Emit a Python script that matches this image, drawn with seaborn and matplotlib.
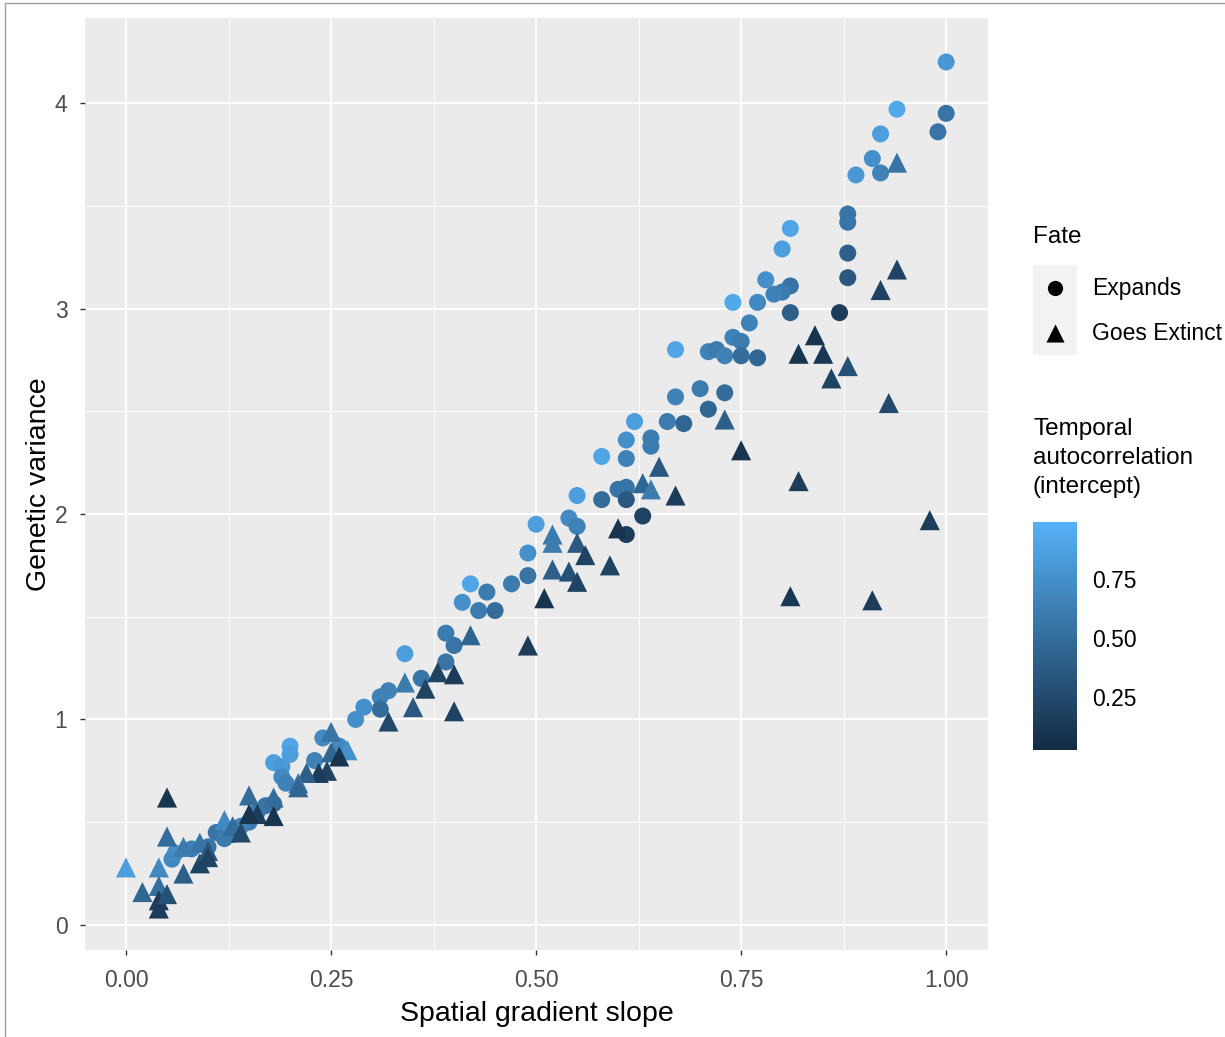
import numpy as np
import pandas as pd
import seaborn as sns
import matplotlib
matplotlib.use("Agg")
import matplotlib.pyplot as plt
from matplotlib.colors import LinearSegmentedColormap, Normalize
from matplotlib.lines import Line2D
import matplotlib.colorbar as mcolorbar

# ---------------- data ----------------
expands_slope = [1.00, 1.00, 0.99, 0.94, 0.92, 0.91, 0.92, 0.89, 0.88, 0.88,
                 0.88, 0.88, 0.87, 0.81, 0.80, 0.78, 0.81, 0.80, 0.79, 0.81,
                 0.74, 0.77, 0.76, 0.74, 0.75, 0.71, 0.72, 0.73, 0.75, 0.77,
                 0.67, 0.70, 0.73, 0.71, 0.67, 0.62, 0.66, 0.68, 0.61, 0.64,
                 0.64, 0.58, 0.61, 0.55, 0.58, 0.60, 0.61, 0.61, 0.63, 0.61,
                 0.54, 0.55, 0.50, 0.49, 0.49, 0.47, 0.42, 0.41, 0.44, 0.43,
                 0.45, 0.39, 0.40, 0.34, 0.39, 0.36, 0.32, 0.31, 0.31, 0.29,
                 0.28, 0.24, 0.23, 0.20, 0.18, 0.19, 0.19, 0.195, 0.18, 0.06,
                 0.056, 0.11, 0.10, 0.13, 0.15, 0.20, 0.26, 0.08, 0.12, 0.14,
                 0.16, 0.17]
expands_var = [4.20, 3.95, 3.86, 3.97, 3.85, 3.73, 3.66, 3.65, 3.46, 3.42,
               3.27, 3.15, 2.98, 3.39, 3.29, 3.14, 3.11, 3.08, 3.07, 2.98,
               3.03, 3.03, 2.93, 2.86, 2.84, 2.79, 2.80, 2.77, 2.77, 2.76,
               2.80, 2.61, 2.59, 2.51, 2.57, 2.45, 2.45, 2.44, 2.36, 2.37,
               2.33, 2.28, 2.27, 2.09, 2.07, 2.12, 2.13, 2.07, 1.99, 1.90,
               1.98, 1.94, 1.95, 1.81, 1.70, 1.66, 1.66, 1.57, 1.62, 1.53,
               1.53, 1.42, 1.36, 1.32, 1.28, 1.20, 1.14, 1.11, 1.05, 1.06,
               1.00, 0.91, 0.80, 0.87, 0.79, 0.77, 0.72, 0.69, 0.59, 0.35,
               0.32, 0.45, 0.38, 0.44, 0.50, 0.83, 0.87, 0.37, 0.42, 0.48,
               0.55, 0.58]
expands_ac = [0.80, 0.55, 0.55, 0.92, 0.85, 0.75, 0.65, 0.80, 0.55, 0.55,
              0.40, 0.35, 0.15, 0.90, 0.85, 0.75, 0.55, 0.60, 0.65, 0.40,
              0.92, 0.70, 0.65, 0.65, 0.60, 0.65, 0.60, 0.65, 0.50, 0.45,
              0.90, 0.60, 0.50, 0.45, 0.65, 0.85, 0.60, 0.45, 0.75, 0.60,
              0.60, 0.90, 0.65, 0.85, 0.50, 0.55, 0.55, 0.35, 0.20, 0.15,
              0.70, 0.65, 0.85, 0.75, 0.55, 0.60, 0.90, 0.75, 0.60, 0.60,
              0.50, 0.60, 0.55, 0.85, 0.55, 0.55, 0.65, 0.65, 0.50, 0.75,
              0.75, 0.70, 0.65, 0.90, 0.85, 0.80, 0.70, 0.65, 0.45, 0.75,
              0.70, 0.55, 0.55, 0.55, 0.60, 0.85, 0.70, 0.65, 0.60, 0.65,
              0.60, 0.55]

extinct_slope = [0.94, 0.94, 0.92, 0.84, 0.82, 0.85, 0.88, 0.86, 0.93, 0.73,
                 0.75, 0.82, 0.98, 0.81, 0.91, 0.65, 0.63, 0.64, 0.67, 0.60,
                 0.55, 0.52, 0.52, 0.56, 0.59, 0.52, 0.54, 0.55, 0.51, 0.49,
                 0.42, 0.38, 0.40, 0.34, 0.365, 0.35, 0.40, 0.32, 0.25, 0.27,
                 0.25, 0.26, 0.245, 0.235, 0.22, 0.21, 0.18, 0.21, 0.05, 0.15,
                 0.00, 0.05, 0.04, 0.02, 0.04, 0.04, 0.04, 0.07, 0.07, 0.09,
                 0.09, 0.10, 0.12, 0.13, 0.14, 0.16, 0.15, 0.18, 0.10, 0.05]
extinct_var = [3.71, 3.19, 3.09, 2.87, 2.78, 2.78, 2.72, 2.66, 2.54, 2.46,
               2.31, 2.16, 1.97, 1.60, 1.58, 2.23, 2.15, 2.12, 2.09, 1.93,
               1.86, 1.90, 1.86, 1.80, 1.75, 1.73, 1.72, 1.67, 1.59, 1.36,
               1.41, 1.23, 1.22, 1.18, 1.15, 1.06, 1.04, 0.99, 0.94, 0.85,
               0.84, 0.82, 0.75, 0.74, 0.74, 0.69, 0.62, 0.67, 0.62, 0.63,
               0.28, 0.43, 0.28, 0.16, 0.19, 0.12, 0.08, 0.25, 0.38, 0.40,
               0.30, 0.36, 0.51, 0.48, 0.45, 0.54, 0.54, 0.53, 0.33, 0.15]
extinct_ac = [0.55, 0.20, 0.20, 0.10, 0.10, 0.12, 0.30, 0.20, 0.25, 0.40,
              0.10, 0.15, 0.15, 0.12, 0.15, 0.35, 0.45, 0.60, 0.15, 0.10,
              0.35, 0.60, 0.60, 0.20, 0.20, 0.40, 0.30, 0.20, 0.10, 0.15,
              0.45, 0.20, 0.15, 0.60, 0.20, 0.35, 0.20, 0.25, 0.55, 0.75,
              0.45, 0.10, 0.20, 0.15, 0.40, 0.55, 0.50, 0.45, 0.10, 0.50,
              0.85, 0.50, 0.70, 0.45, 0.50, 0.15, 0.15, 0.40, 0.60, 0.55,
              0.20, 0.35, 0.70, 0.50, 0.25, 0.15, 0.10, 0.10, 0.20, 0.30]

fate_levels = ["Expands", "Goes Extinct"]
x_ticks = [0.00, 0.25, 0.50, 0.75, 1.00]
x_ticklabels = ["0.00", "0.25", "0.50", "0.75", "1.00"]
y_ticks = [0, 1, 2, 3, 4]
cbar_ticks = [0.25, 0.50, 0.75]

df = pd.DataFrame({
    "slope": expands_slope + extinct_slope,
    "var": expands_var + extinct_var,
    "ac": expands_ac + extinct_ac,
    "Fate": [fate_levels[0]] * len(expands_slope) + [fate_levels[1]] * len(extinct_slope),
})

# ---------------- figure ----------------
sns.set_theme(style="white")
plt.rcParams["font.family"] = ["Liberation Sans", "DejaVu Sans"]

W, H = 1225, 1037
fig = plt.figure(figsize=(W / 100, H / 100), dpi=100)
fig.patch.set_facecolor("white")


def fx(px):
    return px / W


def fy(py):
    return 1 - py / H


ax = fig.add_axes([fx(85), fy(950), fx(988) - fx(85), fy(18) - fy(950)])
ax.set_facecolor("#EBEBEB")

cmap = LinearSegmentedColormap.from_list("gg", ["#132B43", "#56B1F7"])
norm = Normalize(0.025, 0.99)

sns.scatterplot(data=df[df.Fate == "Expands"], x="slope", y="var", hue="ac",
                palette=cmap, hue_norm=norm, marker="o", s=150, linewidth=0,
                ax=ax, legend=False, zorder=3)
sns.scatterplot(data=df[df.Fate == "Goes Extinct"], x="slope", y="var", hue="ac",
                palette=cmap, hue_norm=norm, marker="^", s=210, linewidth=0,
                ax=ax, legend=False, zorder=3)

ax.set_xlim(-0.05, 1.051)
ax.set_ylim(-0.122, 4.414)
ax.set_xticks(x_ticks)
ax.set_xticklabels(x_ticklabels)
ax.set_yticks(y_ticks)
ax.set_yticklabels([str(v) for v in y_ticks])
ax.set_xticks([0.125, 0.375, 0.625, 0.875], minor=True)
ax.set_yticks([0.5, 1.5, 2.5, 3.5], minor=True)
ax.grid(which="major", color="white", linewidth=1.4)
ax.grid(which="minor", color="white", linewidth=0.7)
ax.set_axisbelow(True)
for s in ax.spines.values():
    s.set_visible(False)
ax.tick_params(which="major", length=3.6, width=1, color="#333333",
               labelsize=16.5, labelcolor="#4D4D4D", pad=3, bottom=True, left=True)
ax.tick_params(axis="x", which="major", pad=10)
ax.tick_params(axis="y", which="major", pad=9)
ax.tick_params(which="minor", length=0)

ax.set_xlabel("Spatial gradient slope", fontsize=20.5, color="black")
ax.set_ylabel("Genetic variance", fontsize=20.5, color="black")
ax.xaxis.set_label_coords(0.5, (950 - 1001) / 932)
ax.yaxis.set_label_coords((52 - 85) / 903, 0.5)

# ---------------- Fate legend ----------------
fig.text(fx(1033), fy(237), "Fate", fontsize=17.5, ha="left", va="center", color="black")
kax = fig.add_axes([fx(1033), fy(355), fx(1077) - fx(1033), fy(265) - fy(355)])
kax.set_facecolor("#F2F2F2")
kax.set_xlim(0, 1)
kax.set_ylim(0, 2)
kax.set_xticks([])
kax.set_yticks([])
for s in kax.spines.values():
    s.set_visible(False)
kax.scatter([0.5], [1.5], marker="o", s=120, color="black", linewidth=0)
kax.scatter([0.5], [0.5], marker="^", s=170, color="black", linewidth=0)
fig.text(fx(1092), fy(289), fate_levels[0], fontsize=16.5, ha="left", va="center", color="black")
fig.text(fx(1092), fy(334), fate_levels[1], fontsize=16.5, ha="left", va="center", color="black")

# ---------------- colourbar legend ----------------
fig.text(fx(1033), fy(418), "Temporal\nautocorrelation\n(intercept)", fontsize=17.5,
         ha="left", va="top", color="black", linespacing=1.4)
cax = fig.add_axes([fx(1033), fy(750), fx(1077) - fx(1033), fy(522) - fy(750)])
cb = mcolorbar.ColorbarBase(cax, cmap=cmap, norm=norm, orientation="vertical")
cb.outline.set_visible(False)
cb.set_ticks(cbar_ticks)
cb.set_ticklabels([f"{t:.2f}" for t in cbar_ticks])
cax.tick_params(left=True, right=True, direction="in", length=7, width=1.2,
                color="white", labelsize=16.5, labelcolor="black", pad=11)

# thin screenshot border
fig.add_artist(Line2D([fx(5), fx(5)], [0, fy(3)], color="#A0A0A0", linewidth=1))
fig.add_artist(Line2D([fx(5), 1], [fy(3), fy(3)], color="#A0A0A0", linewidth=1))

fig.savefig("out.png", dpi=100)
